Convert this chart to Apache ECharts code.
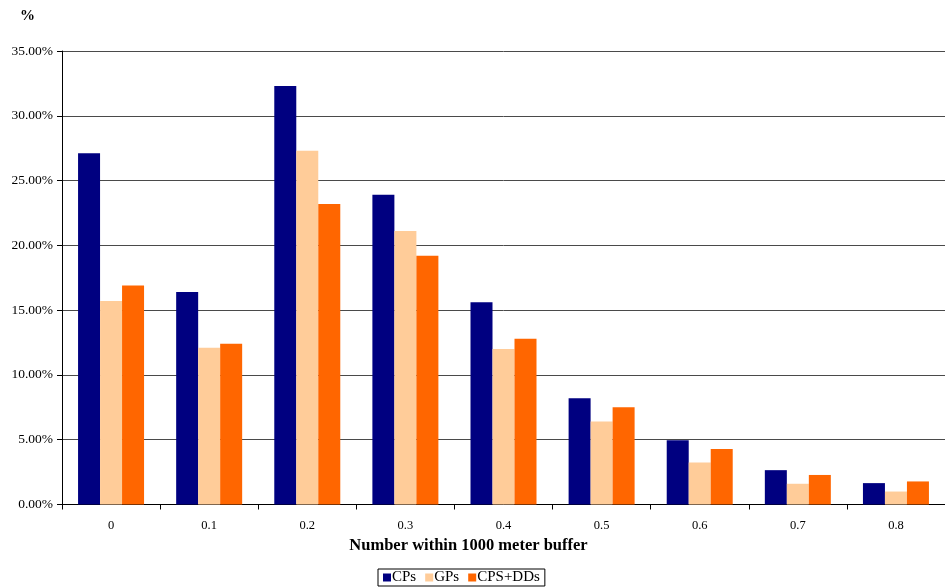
<!DOCTYPE html>
<html>
<head>
<meta charset="utf-8">
<script src="https://cdn.jsdelivr.net/npm/echarts@6/dist/echarts.min.js"></script>
<style>
  html, body { margin: 0; padding: 0; background: #ffffff; }
  #chart { width: 945px; height: 587px; }
</style>
</head>
<body>
<div id="chart"></div>
<script>
// Share of sites (%) by number found within a 1000 meter buffer
const categories = ['0', '0.1', '0.2', '0.3', '0.4', '0.5', '0.6', '0.7', '0.8'];
const cps      = [27.1, 16.4, 32.3, 23.9, 15.6, 8.2, 4.95, 2.65, 1.65];
const gps      = [15.7, 12.1, 27.3, 21.1, 12.0, 6.4, 3.25, 1.6, 1.0];
const cpsDds   = [16.9, 12.4, 23.2, 19.2, 12.8, 7.5, 4.28, 2.28, 1.78];
const seriesNames = ['CPs', 'GPs', 'CPS+DDs'];
const yTicks = { min: 0, max: 35, step: 5 };

const serif = '"Liberation Serif", "DejaVu Serif", serif';
const colors = ['#000080', '#FFCC99', '#FF6600'];

const chart = echarts.init(document.getElementById('chart'), null, { renderer: 'canvas' });

const seriesData = [cps, gps, cpsDds];

chart.setOption({
  animation: false,
  backgroundColor: '#ffffff',
  textStyle: { fontFamily: serif },
  graphic: [{
    type: 'text',
    left: 20,
    top: 9,
    style: { text: '%', font: 'bold 15px ' + serif, fill: '#000' }
  }],
  legend: {
    data: seriesNames,
    bottom: 1,
    left: 378,
    icon: 'rect',
    itemWidth: 8,
    itemHeight: 8,
    itemGap: 9,
    padding: [1, 5, 1, 5],
    borderColor: '#000',
    borderWidth: 1,
    borderRadius: 0,
    textStyle: { fontFamily: serif, fontSize: 15, color: '#000', padding: [0, 0, 0, -4] }
  },
  grid: {
    left: 62,
    top: 51,
    width: 892,
    height: 453.5,
    containLabel: false
  },
  xAxis: {
    type: 'category',
    data: categories,
    boundaryGap: true,
    name: 'Number within 1000 meter buffer',
    nameLocation: 'middle',
    nameGap: 31,
    nameTextStyle: {
      fontFamily: serif, fontSize: 16.5, fontWeight: 'bold', color: '#000',
      padding: [0, 70, 0, 0]
    },
    axisLine: { lineStyle: { color: '#000', width: 1 } },
    axisTick: { show: true, length: 5, interval: 0, lineStyle: { color: '#000' } },
    axisLabel: { fontFamily: serif, fontSize: 12.5, color: '#000', margin: 15 },
    splitLine: { show: false }
  },
  yAxis: {
    type: 'value',
    min: yTicks.min,
    max: yTicks.max,
    interval: yTicks.step,
    axisLine: { show: true, lineStyle: { color: '#000', width: 1 } },
    axisTick: { show: true, length: 5, lineStyle: { color: '#000' } },
    axisLabel: {
      fontFamily: serif, fontSize: 13.5, color: '#000', margin: 9,
      formatter: v => v.toFixed(2) + '%'
    },
    splitLine: { show: true, lineStyle: { color: '#4a4a4a', width: 1 } }
  },
  series: seriesNames.map((name, i) => ({
    name,
    type: 'bar',
    data: seriesData[i],
    barWidth: 22,
    barGap: '0%',
    itemStyle: { color: colors[i] },
    emphasis: { disabled: true }
  }))
});
</script>
</body>
</html>
